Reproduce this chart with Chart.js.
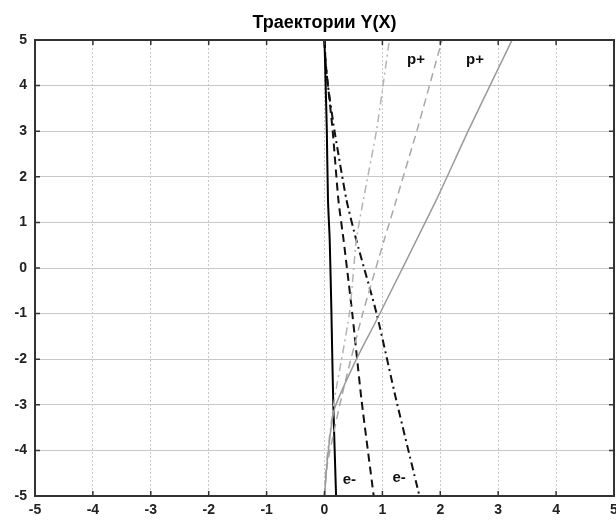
<!DOCTYPE html>
<html>
<head>
<meta charset="utf-8">
<script src="https://cdn.jsdelivr.net/npm/chart.js@4"></script>
<style>
  html, body { margin: 0; padding: 0; background: #fff; }
  #wrap { width: 616px; height: 523px; }
</style>
</head>
<body>
<div id="wrap"><canvas id="traj"></canvas></div>
<script>
// Axis ticks
const tickValues = [-5, -4, -3, -2, -1, 0, 1, 2, 3, 4, 5];

// Electron trajectories (black), start at top near x = 0
const eY = [5, 4.5, 4, 3.03, 1.49, 0.61, -1, -2.9, -5];
const eSolidX = [0, 0.01, 0.02, 0.04, 0.06, 0.09, 0.12, 0.15, 0.2];
const eDashX = [0, 0.02, 0.06, 0.14, 0.24, 0.33, 0.48, 0.64, 0.85];
const eDashDotX = [0, 0.02, 0.06, 0.17, 0.38, 0.55, 0.9, 1.24, 1.64];

// Proton trajectories (grey), start at bottom near x = 0
const pSolidY = [-5, -4.2, -3.1, -2, -1.14, 1.49, 3.03, 5];
const pSolidX = [0, 0.05, 0.17, 0.55, 0.9, 1.93, 2.49, 3.24];
const pDashY = [-5, -4.3, -2.8, -1, 0.61, 1.49, 3.03, 5];
const pDashX = [0, 0.05, 0.3, 0.66, 1.03, 1.24, 1.6, 2.03];
const pDashDotY = [-5, -4.3, -2.9, -1, 0.61, 1.49, 3.03, 5];
const pDashDotX = [0, 0.03, 0.17, 0.43, 0.55, 0.67, 0.9, 1.12];

// Text annotations
const noteText = ['p+', 'p+', 'e-', 'e-'];
const noteX = [1.58, 2.6, 0.43, 1.29];
const noteY = [4.56, 4.56, -4.65, -4.6];

const FONT = '"Liberation Sans", Arial, sans-serif';
const toPoints = (xs, ys) => xs.map((x, i) => ({ x: x, y: ys[i] }));

function line(xs, ys, color, width, dash) {
    return {
        data: toPoints(xs, ys),
        showLine: true,
        borderColor: color,
        borderWidth: width,
        borderDash: dash,
        pointRadius: 0,
        fill: false,
        tension: 0.2
    };
}

// Top/right frame, inward ticks, annotations and title
const framePlugin = {
    id: 'frame',
    afterDraw(chart) {
        const { ctx, chartArea: a, scales } = chart;
        ctx.save();
        ctx.strokeStyle = '#333';
        ctx.lineWidth = 2;
        ctx.strokeRect(a.left, a.top, a.right - a.left, a.bottom - a.top);

        ctx.lineWidth = 1.5;
        ctx.beginPath();
        tickValues.forEach(v => {
            const x = scales.x.getPixelForValue(v);
            ctx.moveTo(x, a.top); ctx.lineTo(x, a.top + 5);
            ctx.moveTo(x, a.bottom); ctx.lineTo(x, a.bottom - 5);
            const y = scales.y.getPixelForValue(v);
            ctx.moveTo(a.left, y); ctx.lineTo(a.left + 5, y);
            ctx.moveTo(a.right, y); ctx.lineTo(a.right - 5, y);
        });
        ctx.stroke();

        ctx.fillStyle = '#111';
        ctx.font = 'bold 15px ' + FONT;
        ctx.textAlign = 'center';
        ctx.textBaseline = 'middle';
        noteText.forEach((t, i) => {
            ctx.fillText(t, scales.x.getPixelForValue(noteX[i]), scales.y.getPixelForValue(noteY[i]));
        });

        ctx.fillStyle = '#000';
        ctx.font = 'bold 18px ' + FONT;
        ctx.fillText('Траектории Y(X)', (a.left + a.right) / 2, 23);
        ctx.restore();
    }
};

const bgPlugin = {
    id: 'bg',
    beforeDraw(chart) {
        const ctx = chart.ctx;
        ctx.save();
        ctx.fillStyle = '#fff';
        ctx.fillRect(0, 0, chart.width, chart.height);
        ctx.restore();
    }
};

const tickFont = { family: FONT, size: 14, weight: 'bold' };
const gridStyle = { color: '#c8c8c8', lineWidth: 1, drawTicks: false };

new Chart(document.getElementById('traj'), {
    type: 'scatter',
    data: {
        datasets: [
            line(pSolidX, pSolidY, '#9a9a9a', 1.5, []),
            line(pDashX, pDashY, '#a8a8a8', 1.5, [8, 5]),
            line(pDashDotX, pDashDotY, '#b4b4b4', 1.5, [8, 4, 2, 4]),
            line(eSolidX, eY, '#000', 2, []),
            line(eDashX, eY, '#111', 2, [8, 5]),
            line(eDashDotX, eY, '#111', 2, [8, 4, 2, 4])
        ]
    },
    options: {
        responsive: true,
        maintainAspectRatio: false,
        animation: false,
        layout: { padding: { top: 40, right: 2, left: 0, bottom: 0 } },
        plugins: {
            legend: { display: false },
            title: { display: false },
            tooltip: { enabled: false }
        },
        scales: {
            x: {
                type: 'linear',
                min: -5,
                max: 5,
                afterBuildTicks: s => { s.ticks = tickValues.map(v => ({ value: v })); },
                afterFit: s => { s.height = 27; s.paddingLeft = 0; s.paddingRight = 0; },
                ticks: { color: '#222', font: tickFont, padding: 6, maxRotation: 0, autoSkip: false },
                grid: gridStyle,
                border: { display: false, dash: [2, 2] }
            },
            y: {
                type: 'linear',
                min: -5,
                max: 5,
                afterBuildTicks: s => { s.ticks = tickValues.map(v => ({ value: v })); },
                afterFit: s => { s.width = 35; s.paddingTop = 0; s.paddingBottom = 0; },
                ticks: { color: '#222', font: tickFont, padding: 8, autoSkip: false },
                grid: gridStyle,
                border: { display: false }
            }
        }
    },
    plugins: [bgPlugin, framePlugin]
});
</script>
</body>
</html>
